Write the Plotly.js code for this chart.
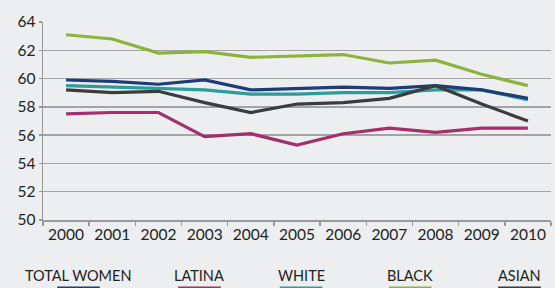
<!DOCTYPE html>
<html>
<head>
<meta charset="utf-8">
<script src="https://cdn.plot.ly/plotly-3.0.1.min.js"></script>
<style>html,body{margin:0;padding:0;background:#ECEEEF;}#chart{width:555px;height:288px;}</style>
</head>
<body>
<div id="chart"></div>
<script>
var years = ["2000","2001","2002","2003","2004","2005","2006","2007","2008","2009","2010"];
var seriesNames = ["TOTAL WOMEN","LATINA","WHITE","BLACK","ASIAN"];
var totalWomen = [59.9,59.8,59.6,59.9,59.2,59.3,59.4,59.3,59.5,59.2,58.6];
var latina     = [57.5,57.6,57.6,55.9,56.1,55.3,56.1,56.5,56.2,56.5,56.5];
var white      = [59.5,59.4,59.3,59.2,58.9,58.9,59.0,59.0,59.2,59.2,58.5];
var black      = [63.1,62.8,61.8,61.9,61.5,61.6,61.7,61.1,61.3,60.3,59.5];
var asian      = [59.2,59.0,59.1,58.3,57.6,58.2,58.3,58.6,59.5,58.2,57.0];
var yTicks = [50,52,54,56,58,60,62,64];

var colors = {"TOTAL WOMEN":"#1E3C78","LATINA":"#A3306A","WHITE":"#2A9E9C","BLACK":"#8BB43A","ASIAN":"#3C3C3C"};
var dataMap = {"TOTAL WOMEN":totalWomen,"LATINA":latina,"WHITE":white,"BLACK":black,"ASIAN":asian};
var drawOrder = ["WHITE","TOTAL WOMEN","ASIAN","LATINA","BLACK"];

var traces = drawOrder.map(function(n){
  return {x:years, y:dataMap[n], type:"scatter", mode:"lines", name:n,
          line:{color:colors[n], width:3.2}, showlegend:false, hoverinfo:"skip"};
});

// legend layout (paper coordinates)
var legendX = [0.07, 0.308, 0.508, 0.723, 0.938];
var annotations = [], shapes = [];
seriesNames.forEach(function(n,i){
  annotations.push({xref:"paper", yref:"paper", x:legendX[i], y:-0.278, text:n, showarrow:false,
    font:{family:"Lato, 'Liberation Sans', sans-serif", size:14.5, color:"#222"}, xanchor:"center", yanchor:"middle"});
  shapes.push({type:"line", xref:"paper", yref:"paper", x0:legendX[i]-0.042, x1:legendX[i]+0.042,
    y0:-0.343, y1:-0.343, line:{color:colors[n], width:3}});
});

var layout = {
  width:555, height:288,
  margin:{l:42.5, r:4, t:22, b:68},
  paper_bgcolor:"#ECEEEF", plot_bgcolor:"#ECEEEF",
  font:{family:"Lato, 'Liberation Sans', sans-serif", color:"#222", size:15},
  xaxis:{type:"category", range:[-0.5,10.5], tickson:"boundaries", ticks:"outside", ticklen:4,
         tickcolor:"#999", tickwidth:1.5, showgrid:false, showline:true, linecolor:"#999", linewidth:1.5,
         tickfont:{size:15.5, color:"#222"}, fixedrange:true},
  yaxis:{range:[50,64], tickvals:yTicks, ticks:"outside", ticklen:3, tickcolor:"#999", tickwidth:1.5,
         showgrid:true, gridcolor:"#A3A3A3", gridwidth:1.5, showline:true, linecolor:"#999", linewidth:1.5,
         zeroline:false, tickfont:{size:15.5, color:"#222"}, fixedrange:true},
  annotations:annotations, shapes:shapes
};

Plotly.newPlot("chart", traces, layout, {displayModeBar:false, staticPlot:true});
</script>
</body>
</html>
